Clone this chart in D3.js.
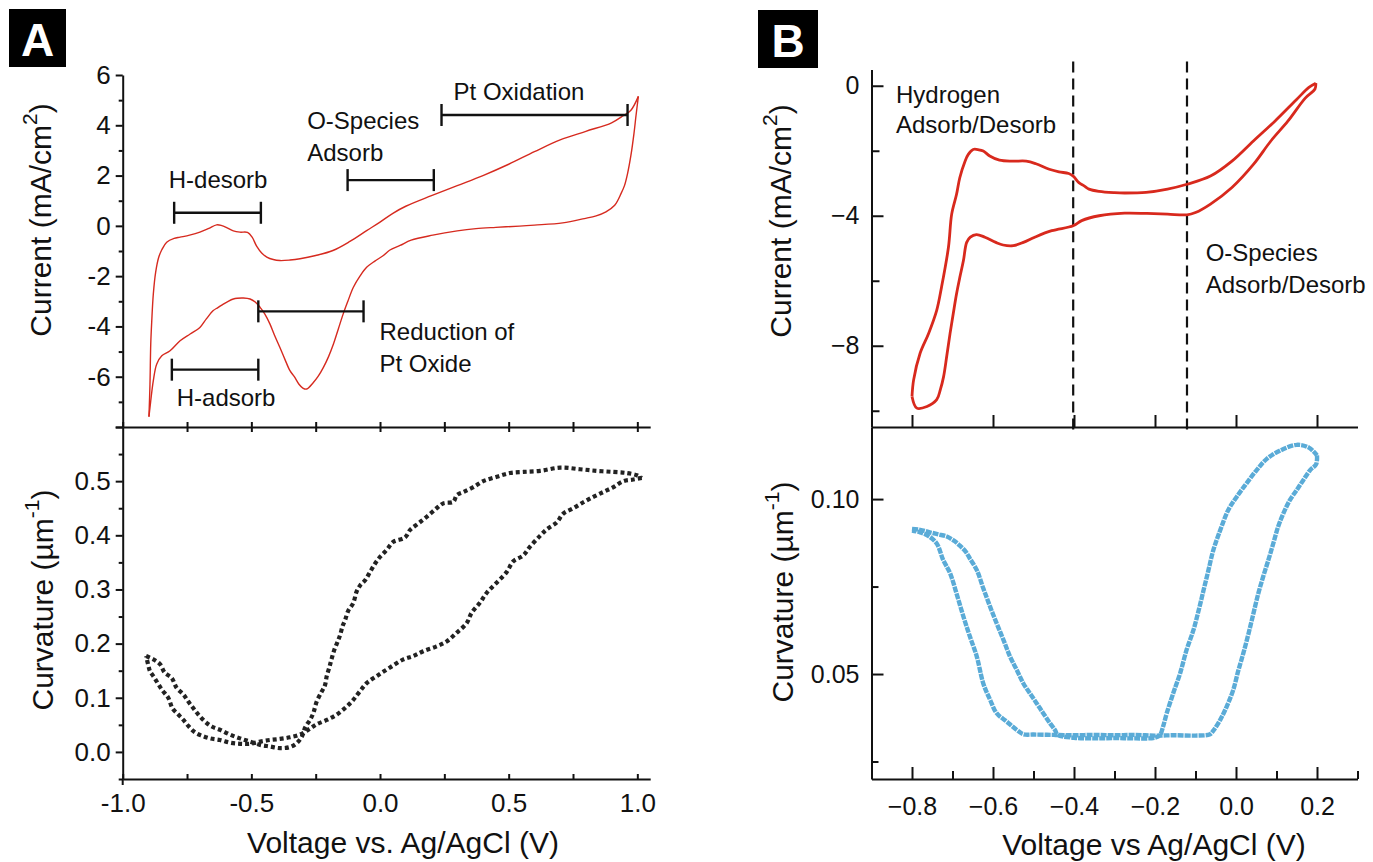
<!DOCTYPE html>
<html lang="en">
<head>
<meta charset="utf-8">
<title>Pt CV and wafer curvature</title>
<script src="https://d3js.org/d3.v7.min.js"></script>
<style>
  body { margin: 0; background: #fff; }
  svg { font-family: "Liberation Sans", Arial, Helvetica, sans-serif; }
  .ann { font-size: 24px; fill: #111; }
  .title { font-size: 30px; fill: #111; }
</style>
</head>
<body>
<svg id="chart" width="1373" height="862"></svg>
<script>
// ---------- panel A, top: cyclic voltammogram (V, mA/cm2) ----------
const cvA_up = [[-0.898,-7.59],[-0.894,-6.3],[-0.891,-4.7],[-0.887,-3.77],[-0.881,-2.71],[-0.872,-1.85],
  [-0.860,-1.25],[-0.848,-0.95],[-0.829,-0.65],[-0.80,-0.5],[-0.777,-0.45],[-0.74,-0.37],[-0.70,-0.25],
  [-0.665,-0.1],[-0.635,0.04],[-0.615,0.01],[-0.596,-0.07],[-0.57,-0.2],[-0.544,-0.25],[-0.515,-0.26],
  [-0.497,-0.45],[-0.479,-0.82],[-0.46,-1.08],[-0.44,-1.24],[-0.415,-1.34],[-0.389,-1.38],[-0.35,-1.36],
  [-0.311,-1.31],[-0.25,-1.18],[-0.183,-0.98],[-0.117,-0.62],[-0.052,-0.19],[0.0,0.15],[0.05,0.5],
  [0.1,0.78],[0.2,1.2],[0.3,1.6],[0.4,2.0],[0.5,2.45],[0.6,2.95],[0.7,3.42],[0.8,3.76],[0.9,4.1],
  [0.945,4.38],[0.975,4.6],[1.004,5.15]];
const cvA_down = [[1.004,5.15],[0.995,4.4],[0.987,3.68],[0.975,2.8],[0.962,2.08],[0.95,1.6],[0.937,1.29],
  [0.912,0.82],[0.878,0.56],[0.84,0.4],[0.794,0.29],[0.71,0.12],[0.6,0.03],[0.542,-0.01],[0.45,-0.06],
  [0.373,-0.11],[0.3,-0.2],[0.205,-0.37],[0.121,-0.57],[0.078,-0.78],[0.037,-0.97],[0.013,-1.18],
  [-0.02,-1.4],[-0.052,-1.65],[-0.078,-2.0],[-0.104,-2.45],[-0.125,-3.0],[-0.143,-3.5],[-0.162,-4.1],
  [-0.181,-4.7],[-0.20,-5.2],[-0.22,-5.63],[-0.24,-5.98],[-0.259,-6.23],[-0.285,-6.49],[-0.30,-6.45],
  [-0.315,-6.3],[-0.333,-6.0],[-0.35,-5.76],[-0.37,-5.3],[-0.389,-4.84],[-0.41,-4.35],[-0.428,-3.9],
  [-0.448,-3.5],[-0.466,-3.24],[-0.485,-3.03],[-0.505,-2.91],[-0.531,-2.87],[-0.555,-2.88],[-0.570,-2.91],
  [-0.59,-3.0],[-0.609,-3.11],[-0.63,-3.25],[-0.648,-3.37],[-0.675,-3.7],[-0.70,-4.04],[-0.738,-4.3],
  [-0.777,-4.57],[-0.816,-4.97],[-0.848,-5.17],[-0.868,-5.5],[-0.881,-6.16],[-0.894,-7.23],[-0.898,-7.59]];

// ---------- panel A, bottom: curvature (V, 1/um) ----------
const curvA_out = [[-0.909,0.177],[-0.881,0.171],[-0.855,0.162],[-0.836,0.146],[-0.81,0.137],[-0.79,0.118],
  [-0.764,0.106],[-0.745,0.093],[-0.726,0.081],[-0.706,0.069],[-0.68,0.056],[-0.654,0.047],[-0.622,0.041],
  [-0.583,0.032],[-0.544,0.025],[-0.505,0.019],[-0.466,0.013],[-0.428,0.010],[-0.389,0.007],[-0.35,0.009],
  [-0.324,0.016],[-0.304,0.028],[-0.29,0.046],[-0.272,0.059],[-0.259,0.072],[-0.246,0.093],[-0.227,0.111],
  [-0.214,0.123],[-0.207,0.140],[-0.197,0.156],[-0.188,0.172],[-0.178,0.188],[-0.166,0.202],[-0.155,0.216],
  [-0.145,0.233],[-0.136,0.243],[-0.124,0.26],[-0.104,0.275],[-0.091,0.296],[-0.078,0.307],[-0.058,0.317],
  [-0.039,0.332],[-0.019,0.348],[0.0,0.36],[0.026,0.373],[0.052,0.388],[0.097,0.396],[0.117,0.41],
  [0.149,0.422],[0.181,0.434],[0.22,0.45],[0.246,0.459],[0.285,0.462],[0.298,0.474],[0.324,0.48],
  [0.363,0.489],[0.401,0.5],[0.454,0.508],[0.505,0.515],[0.557,0.517],[0.622,0.519],[0.70,0.525],
  [0.777,0.522],[0.842,0.519],[0.907,0.517],[0.959,0.515],[0.998,0.511],[1.017,0.506]];
const curvA_back = [[1.017,0.506],[0.984,0.503],[0.946,0.5],[0.907,0.489],[0.868,0.48],[0.829,0.471],
  [0.79,0.461],[0.751,0.45],[0.712,0.44],[0.687,0.424],[0.648,0.411],[0.622,0.399],[0.583,0.379],
  [0.557,0.363],[0.518,0.352],[0.492,0.332],[0.454,0.313],[0.415,0.294],[0.389,0.276],[0.356,0.257],
  [0.337,0.238],[0.298,0.22],[0.259,0.204],[0.22,0.195],[0.168,0.186],[0.129,0.177],[0.091,0.171],
  [0.039,0.156],[-0.013,0.14],[-0.052,0.127],[-0.078,0.112],[-0.104,0.096],[-0.129,0.084],[-0.168,0.069],
  [-0.207,0.059],[-0.246,0.051],[-0.272,0.043],[-0.311,0.032],[-0.35,0.027],[-0.389,0.024],[-0.428,0.022],
  [-0.466,0.019],[-0.505,0.015],[-0.544,0.015],[-0.583,0.017],[-0.622,0.022],[-0.661,0.025],[-0.693,0.03],
  [-0.719,0.036],[-0.745,0.048],[-0.764,0.059],[-0.784,0.069],[-0.806,0.08],[-0.823,0.1],[-0.848,0.115],
  [-0.881,0.14],[-0.894,0.149],[-0.9,0.159],[-0.909,0.177]];

// ---------- panel B, top: cyclic voltammogram ----------
const cvB_up = [[-0.80,-9.56],[-0.796,-9.05],[-0.78,-8.23],[-0.759,-7.62],[-0.739,-6.91],[-0.727,-6.19],
  [-0.71,-4.97],[-0.702,-3.95],[-0.69,-3.34],[-0.682,-2.83],[-0.669,-2.32],[-0.661,-2.11],[-0.649,-1.96],
  [-0.635,-1.97],[-0.624,-2.01],[-0.608,-2.16],[-0.584,-2.29],[-0.551,-2.32],[-0.518,-2.32],[-0.494,-2.40],
  [-0.461,-2.57],[-0.437,-2.65],[-0.413,-2.70],[-0.402,-2.78],[-0.388,-2.98],[-0.375,-3.08],[-0.363,-3.18],
  [-0.338,-3.25],[-0.30,-3.29],[-0.275,-3.30],[-0.222,-3.28],[-0.169,-3.18],[-0.121,-3.03],[-0.063,-2.78],
  [-0.010,-2.32],[0.043,-1.70],[0.096,-1.09],[0.149,-0.43],[0.180,-0.05],[0.197,0.08]];
const cvB_down = [[0.197,0.08],[0.195,-0.1],[0.171,-0.38],[0.128,-1.09],[0.086,-1.70],[0.043,-2.42],
  [-0.010,-3.13],[-0.063,-3.64],[-0.1,-3.9],[-0.121,-3.97],[-0.169,-3.95],[-0.22,-3.93],[-0.275,-3.92],
  [-0.338,-4.0],[-0.381,-4.15],[-0.402,-4.31],[-0.455,-4.46],[-0.497,-4.66],[-0.525,-4.82],[-0.55,-4.92],
  [-0.575,-4.9],[-0.593,-4.82],[-0.62,-4.66],[-0.641,-4.58],[-0.656,-4.66],[-0.665,-4.82],[-0.673,-5.38],
  [-0.682,-5.9],[-0.69,-6.4],[-0.698,-7.0],[-0.706,-7.62],[-0.714,-8.3],[-0.722,-8.95],[-0.73,-9.35],
  [-0.739,-9.66],[-0.763,-9.87],[-0.788,-9.92],[-0.80,-9.56]];

// ---------- panel B, bottom: curvature ----------
const curvB_out = [[-0.80,0.0915],[-0.78,0.0912],[-0.756,0.0905],[-0.735,0.0899],[-0.714,0.0893],
  [-0.695,0.088],[-0.681,0.0866],[-0.667,0.0849],[-0.657,0.083],[-0.64,0.0797],[-0.624,0.0745],
  [-0.607,0.0692],[-0.591,0.0645],[-0.574,0.0597],[-0.558,0.055],[-0.541,0.0511],[-0.525,0.0473],
  [-0.509,0.0445],[-0.492,0.0416],[-0.476,0.0388],[-0.459,0.0359],[-0.447,0.034],[-0.44,0.0326],
  [-0.40,0.0318],[-0.35,0.0316],[-0.30,0.0317],[-0.25,0.0316],[-0.20,0.0318],[-0.188,0.0325],
  [-0.18,0.035],[-0.171,0.0388],[-0.155,0.0445],[-0.138,0.0502],[-0.122,0.0569],[-0.105,0.0626],
  [-0.092,0.0683],[-0.08,0.074],[-0.068,0.0797],[-0.056,0.0854],[-0.039,0.0911],[-0.019,0.0969],
  [0.002,0.1007],[0.026,0.1045],[0.051,0.1083],[0.076,0.1115],[0.108,0.1138],[0.15,0.1155],
  [0.18,0.1147],[0.2,0.1125]];
const curvB_back = [[0.2,0.1125],[0.198,0.110],[0.183,0.1083],[0.166,0.1054],[0.15,0.1026],[0.133,0.0997],
  [0.117,0.0959],[0.104,0.0921],[0.092,0.0873],[0.08,0.0826],[0.067,0.0778],[0.055,0.073],[0.043,0.0673],
  [0.031,0.0616],[0.018,0.0559],[0.006,0.0511],[-0.007,0.0454],[-0.023,0.0407],[-0.039,0.0369],
  [-0.056,0.0338],[-0.064,0.0328],[-0.1,0.0324],[-0.15,0.0325],[-0.2,0.0324],[-0.25,0.0326],[-0.3,0.0325],
  [-0.35,0.0326],[-0.4,0.0325],[-0.45,0.0326],[-0.5,0.0327],[-0.525,0.0328],[-0.541,0.034],[-0.566,0.0364],
  [-0.591,0.0388],[-0.607,0.0426],[-0.624,0.0473],[-0.64,0.055],[-0.657,0.0607],[-0.673,0.0664],
  [-0.69,0.073],[-0.706,0.0788],[-0.723,0.0826],[-0.739,0.0873],[-0.76,0.0895],[-0.78,0.0905],[-0.80,0.091]];

// ---------- ticks, labels, annotations ----------
const xMajorA = [-1, -0.5, 0, 0.5, 1];
const xMinorA = [-0.75, -0.25, 0.25, 0.75];
const yMajorA1 = [-8, -6, -4, -2, 0, 2, 4, 6];
const yMinorA1 = [-7, -5, -3, -1, 1, 3, 5];
const yMajorA2 = [0, 0.1, 0.2, 0.3, 0.4, 0.5, 0.6];
const yMinorA2 = [-0.05, 0.05, 0.15, 0.25, 0.35, 0.45, 0.55];
const xMajorB = [-0.8, -0.6, -0.4, -0.2, 0, 0.2];
const xMinorB = [-0.7, -0.5, -0.3, -0.1, 0.1, 0.3];
const yMajorB1 = [0, -4, -8];
const yMinorB1 = [-2, -6, -10];
const yMajorB2 = [0.05, 0.10];
const yMinorB2 = [0.025, 0.075];
const boundariesB = [-0.402, -0.121];

// bars: [from V, to V, current]
const barsA = [[0.239, 0.962, 4.41], [-0.126, 0.209, 1.82], [-0.80, -0.463, 0.52],
               [-0.473, -0.064, -3.40], [-0.809, -0.473, -5.72]];
// text: [label, V, current]
const notesA = [["Pt Oxidation", 0.286, 5.34], ["O-Species", -0.283, 4.18], ["Adsorb", -0.283, 2.92],
                ["H-desorb", -0.821, 1.86], ["Reduction of", -0.002, -4.22], ["Pt Oxide", -0.002, -5.48],
                ["H-adsorb", -0.79, -6.81]];
const notesB = [["Hydrogen", -0.8395, -0.26], ["Adsorb/Desorb", -0.8395, -1.2],
                ["O-Species", -0.075, -5.14], ["Adsorb/Desorb", -0.075, -6.12]];

// ---------- drawing ----------
const svg = d3.select("#chart");
const ink = "#111";

const xA = d3.scaleLinear().domain([-1, 1.05]).range([122.7, 650.2]);
const yA1 = d3.scaleLinear().domain([-8, 6]).range([427, 75]);
const yA2 = d3.scaleLinear().domain([-0.05, 0.6]).range([779, 427]);
const xB = d3.scaleLinear().domain([-0.9, 0.3]).range([871.5, 1357.5]);
const yB1 = d3.scaleLinear().domain([-10.5, 0.5]).range([427, 69.5]);
const yB2 = d3.scaleLinear().domain([0.02, 0.1206]).range([779, 427]);

function axis(gen, tx, ty, values, size, fmt, pad, fs, keepDomain) {
  const g = svg.append("g")
    .attr("transform", "translate(" + tx + "," + ty + ")")
    .call(gen.tickValues(values).tickSize(size).tickSizeOuter(0).tickPadding(pad).tickFormat(fmt));
  g.attr("font-family", null).attr("font-size", fs);
  g.selectAll("text").attr("fill", ink);
  g.selectAll(".tick line").attr("stroke", ink).attr("stroke-width", 2);
  if (keepDomain) g.select(".domain").attr("stroke", ink).attr("stroke-width", 2);
  else g.select(".domain").remove();
  return g;
}
const none = () => "";
const fmtA = d => d.toFixed(1);

// panel A axes
axis(d3.axisLeft(yA1), xA(-1), 0, yMajorA1, 7, d => d === -8 ? "" : d, 5, 26, true);
axis(d3.axisLeft(yA1), xA(-1), 0, yMinorA1, 4, none, 5, 26, false);
axis(d3.axisBottom(xA), 0, yA1(-8), xMajorA.concat(xMinorA), -5, none, 5, 26, true);
axis(d3.axisTop(xA), 0, yA2(0.6), xMajorA.slice(1).concat(xMinorA), -5, none, 5, 26, false);
axis(d3.axisLeft(yA2), xA(-1), 0, yMajorA2, 7, d => d === 0.6 ? "" : d.toFixed(1), 5, 26, true);
axis(d3.axisLeft(yA2), xA(-1), 0, yMinorA2, 4, none, 5, 26, false);
axis(d3.axisBottom(xA), 0, yA2(-0.05), xMajorA, -5, fmtA, 15, 26, true);
axis(d3.axisBottom(xA), 0, yA2(-0.05), xMinorA, -5, none, 15, 26, false);
svg.append("line").attr("x1", xA(-1)).attr("x2", xA(-1))
  .attr("y1", yA2(-0.05)).attr("y2", yA2(-0.05) + 6).attr("stroke", ink).attr("stroke-width", 2);

// panel B axes
const fmtB = d3.format(".1f");
axis(d3.axisLeft(yB1), xB(-0.9), 0, yMajorB1, -12, d => d3.format("d")(d), 12, 25, true);
axis(d3.axisLeft(yB1), xB(-0.9), 0, yMinorB1, -8, none, 12, 25, false);
axis(d3.axisBottom(xB), 0, yB1(-10.5), xMajorB, -12, none, 18, 25, true);
axis(d3.axisLeft(yB2), xB(-0.9), 0, yMajorB2, -12, d3.format(".2f"), 12, 25, true);
axis(d3.axisLeft(yB2), xB(-0.9), 0, yMinorB2, -7, none, 12, 25, false);
axis(d3.axisBottom(xB), 0, yB2(0.02), xMajorB, -12, fmtB, 18, 25, true);
axis(d3.axisBottom(xB), 0, yB2(0.02), xMinorB, -8, none, 18, 25, false);

// dashed boundaries in B
svg.selectAll(".bound").data(boundariesB).join("line")
  .attr("x1", d => xB(d)).attr("x2", d => xB(d))
  .attr("y1", yB1(0.75)).attr("y2", yB1(-10.5) + 4)
  .attr("stroke", ink).attr("stroke-width", 2.2).attr("stroke-dasharray", "11,6");

// curves
const cr = d3.curveCatmullRom.alpha(0.5);
const lineA1 = d3.line().x(d => xA(d[0])).y(d => yA1(d[1])).curve(cr);
const lineA2 = d3.line().x(d => xA(d[0])).y(d => yA2(d[1])).curve(cr);
const lineB1 = d3.line().x(d => xB(d[0])).y(d => yB1(d[1])).curve(cr);
const lineB2 = d3.line().x(d => xB(d[0])).y(d => yB2(d[1])).curve(cr);

svg.selectAll(".cvA").data([cvA_up, cvA_down]).join("path")
  .attr("d", lineA1).attr("fill", "none").attr("stroke", "#d62a1f").attr("stroke-width", 1.4);

svg.selectAll(".curvA").data([curvA_out, curvA_back]).join("path")
  .attr("d", lineA2).attr("fill", "none").attr("stroke", "#222")
  .attr("stroke-width", 4.2).attr("stroke-dasharray", "4,3");

svg.selectAll(".cvB").data([cvB_up, cvB_down]).join("path")
  .attr("d", lineB1).attr("fill", "none").attr("stroke", "#d8291d").attr("stroke-width", 2.8);

svg.selectAll(".curvB").data([curvB_out, curvB_back]).join("path")
  .attr("d", lineB2).attr("fill", "none").attr("stroke", "#5aabd7")
  .attr("stroke-width", 4.4).attr("stroke-linejoin", "round").attr("stroke-dasharray", "6,1");

// annotation bars in A
const bars = svg.append("g").attr("stroke", ink).attr("stroke-width", 2.4);
barsA.forEach(b => {
  const y = yA1(b[2]);
  bars.append("line").attr("x1", xA(b[0])).attr("x2", xA(b[1])).attr("y1", y).attr("y2", y);
  [b[0], b[1]].forEach(v => bars.append("line")
    .attr("x1", xA(v)).attr("x2", xA(v)).attr("y1", y - 11).attr("y2", y + 11));
});

svg.selectAll(".noteA").data(notesA).join("text").attr("class", "ann")
  .attr("x", d => xA(d[1])).attr("y", d => yA1(d[2])).attr("dominant-baseline", "central")
  .text(d => d[0]);
svg.selectAll(".noteB").data(notesB).join("text").attr("class", "ann")
  .attr("x", d => xB(d[1])).attr("y", d => yB1(d[2])).attr("dominant-baseline", "central")
  .text(d => d[0]);

// axis titles
function yTitle(x, y, main, sup, tail) {
  const t = svg.append("text").attr("class", "title")
    .attr("transform", "translate(" + x + "," + y + ") rotate(-90)")
    .attr("text-anchor", "middle").attr("dominant-baseline", "central");
  t.append("tspan").text(main);
  t.append("tspan").attr("font-size", 21).attr("dy", -11).text(sup);
  t.append("tspan").attr("dy", 11).text(tail);
}
yTitle(40, 220, "Current (mA/cm", "2", ")");
yTitle(42, 600, "Curvature (\u00b5m", "-1", ")");
yTitle(780, 221, "Current (mA/cm", "2", ")");
yTitle(782, 592, "Curvature (\u00b5m", "-1", ")");

svg.append("text").attr("class", "title").attr("x", 403).attr("y", 842)
  .attr("text-anchor", "middle").attr("dominant-baseline", "central").text("Voltage vs. Ag/AgCl (V)");
svg.append("text").attr("class", "title").attr("x", 1154).attr("y", 844)
  .attr("text-anchor", "middle").attr("dominant-baseline", "central").text("Voltage vs Ag/AgCl (V)");

// panel letters
[["A", 9, 9, 57, 58], ["B", 758, 10, 60, 58]].forEach(p => {
  svg.append("rect").attr("x", p[1]).attr("y", p[2]).attr("width", p[3]).attr("height", p[4]).attr("fill", "#000");
  svg.append("text").attr("x", p[1] + p[3] / 2).attr("y", p[2] + p[4] / 2 + 2)
    .attr("text-anchor", "middle").attr("dominant-baseline", "central")
    .attr("font-size", 46).attr("font-weight", "bold").attr("fill", "#fff").text(p[0]);
});
</script>
</body>
</html>
